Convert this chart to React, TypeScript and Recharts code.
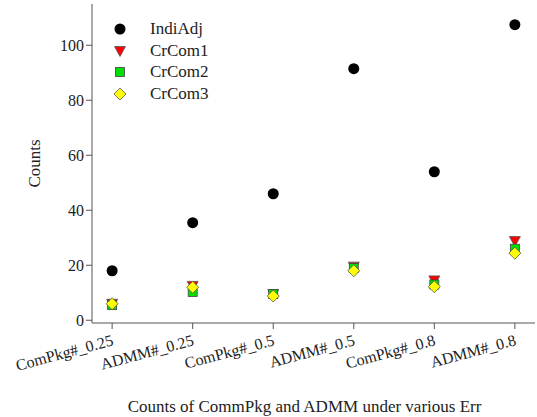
import { ScatterChart, Scatter, XAxis, YAxis } from 'recharts'

const CATEGORIES = ['ComPkg#_0.25', 'ADMM#_0.25', 'ComPkg#_0.5', 'ADMM#_0.5', 'ComPkg#_0.8', 'ADMM#_0.8']
const INDI_ADJ = [18, 35.5, 46, 91.5, 54, 107.5]
const CR_COM1 = [6, 12.5, 9.5, 19.5, 14.5, 28.8]
const CR_COM2 = [5.5, 10.3, 9.5, 19, 13, 26]
const CR_COM3 = [6, 12, 8.8, 18, 12.2, 24.4]
const Y_TICKS = [0, 20, 40, 60, 80, 100]

const FONT = '"Liberation Serif", "Times New Roman", serif'
const AXIS = '#555'
const TEXT = '#222'

const toPoints = (vals: number[]) => vals.map((v, i) => ({ x: i + 1, y: v }))

const Circle = ({ cx, cy }: any) => <circle cx={cx} cy={cy} r={5.5} fill="#000" />
const TriDown = ({ cx, cy }: any) => (
  <path d={`M${cx - 5.5},${cy - 4.5} L${cx + 5.5},${cy - 4.5} L${cx},${cy + 5.5} Z`} fill="#ff0000" stroke="#555" strokeWidth={0.8} />
)
const Square = ({ cx, cy }: any) => (
  <rect x={cx - 4.5} y={cy - 4.5} width={9} height={9} fill="#00e000" stroke="#444" strokeWidth={0.8} />
)
const Diamond = ({ cx, cy }: any) => (
  <path d={`M${cx},${cy - 6} L${cx + 6},${cy} L${cx},${cy + 6} L${cx - 6},${cy} Z`} fill="#ffff00" stroke="#555" strokeWidth={0.8} />
)

const SERIES = [
  { name: 'IndiAdj', data: INDI_ADJ, shape: Circle },
  { name: 'CrCom1', data: CR_COM1, shape: TriDown },
  { name: 'CrCom2', data: CR_COM2, shape: Square },
  { name: 'CrCom3', data: CR_COM3, shape: Diamond },
]

const XTick = ({ x, y, payload }: any) => (
  <text
    x={x + 2}
    y={y + 14}
    transform={`rotate(-15, ${x + 2}, ${y + 14})`}
    textAnchor="end"
    fontFamily={FONT}
    fontSize={16}
    fill={TEXT}
  >
    {CATEGORIES[payload.value - 1]}
  </text>
)

const LegendBox = () => (
  <div style={{ position: 'absolute', left: 110, top: 18, fontFamily: FONT, fontSize: 17, color: TEXT }}>
    {SERIES.map(s => {
      const Shape = s.shape
      return (
        <div key={s.name} style={{ display: 'flex', alignItems: 'center', height: 21.7 }}>
          <svg width={20} height={16} style={{ overflow: 'visible' }}>
            <Shape cx={10} cy={8} />
          </svg>
          <span style={{ marginLeft: 20 }}>{s.name}</span>
        </div>
      )
    })}
  </div>
)

export default function App() {
  return (
    <div style={{ position: 'absolute', left: 0, top: 0, width: 537, height: 417, background: '#fff' }}>
      <ScatterChart width={537} height={417} margin={{ top: 4, right: 2, bottom: 0, left: 0 }}>
        <XAxis
          xAxisId="b"
          type="number"
          dataKey="x"
          domain={[0.75, 6.25]}
          ticks={[1, 2, 3, 4, 5, 6]}
          tick={<XTick />}
          tickSize={6}
          stroke={AXIS}
          height={94}
          label={{ value: 'Counts of CommPkg and ADMM under various Err', position: 'insideBottom', offset: 5, fontFamily: FONT, fontSize: 17, fill: TEXT, dx: -9 }}
        />
        <XAxis xAxisId="t" orientation="top" type="number" dataKey="x" domain={[0.75, 6.25]} tick={false} tickLine={false} stroke={AXIS} height={0} />
        <YAxis
          yAxisId="l"
          type="number"
          dataKey="y"
          domain={[-1, 115]}
          ticks={Y_TICKS}
          tickSize={6}
          tick={{ fontFamily: FONT, fontSize: 16, fill: TEXT }}
          stroke={AXIS}
          width={92}
          label={{ value: 'Counts', angle: -90, position: 'insideLeft', offset: 34, fontFamily: FONT, fontSize: 17, fill: TEXT, style: { textAnchor: 'middle' } }}
        />
        <YAxis yAxisId="r" orientation="right" type="number" dataKey="y" domain={[-1, 115]} tick={false} tickLine={false} stroke={AXIS} width={0} />
        {SERIES.map(s => (
          <Scatter
            key={s.name}
            name={s.name}
            data={toPoints(s.data)}
            xAxisId="b"
            yAxisId="l"
            shape={s.shape}
            isAnimationActive={false}
          />
        ))}
      </ScatterChart>
      <LegendBox />
    </div>
  )
}
